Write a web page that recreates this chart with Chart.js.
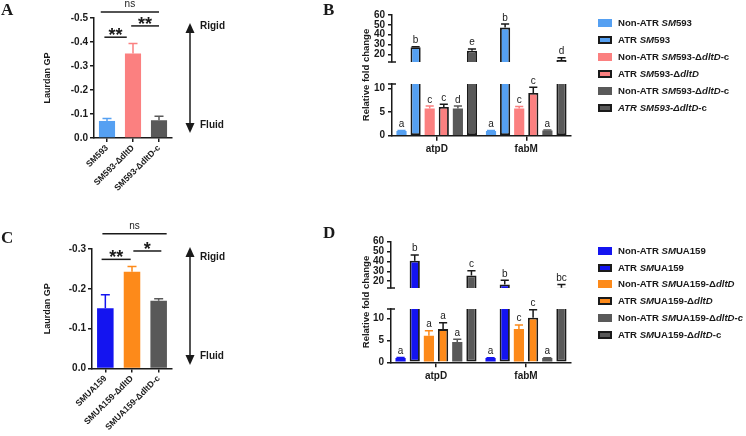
<!DOCTYPE html>
<html>
<head>
<meta charset="utf-8">
<script src="https://cdn.jsdelivr.net/npm/chart.js@4.4.1/dist/chart.umd.min.js"></script>
<style>
  body { margin: 0; background: #fff; }
  #fig { position: relative; width: 746px; height: 436px; overflow: hidden; font-family: Arial, "Liberation Sans", sans-serif; color: #1a1a1a; }
  canvas { position: absolute; }
  .panel { position: absolute; font-family: "Times New Roman", "Liberation Serif", serif; font-weight: bold; font-size: 17px; line-height: 17px; }
  .note { position: absolute; font-weight: bold; font-size: 10px; line-height: 12px; }
  .ytitle { position: absolute; font-weight: bold; font-size: 9.5px; white-space: nowrap; transform: translate(-50%, -50%) rotate(-90deg); }
  .legend { position: absolute; left: 598px; top: 0; font-weight: bold; font-size: 9.6px; }
  .legend .row { position: absolute; left: 0; height: 12px; line-height: 12px; white-space: nowrap; }
  .legend .sw { position: absolute; left: 0; top: 2px; width: 14px; height: 8px; box-sizing: border-box; }
  .legend .txt { position: absolute; left: 20px; top: 0; }
</style>
</head>
<body>
<div id="fig">
  <canvas id="chartA" width="200" height="220" style="left:0;top:0"></canvas>
  <canvas id="chartC" width="200" height="216" style="left:0;top:220px"></canvas>
  <canvas id="chartBup" width="290" height="71" style="left:300px;top:0"></canvas>
  <canvas id="chartBlow" width="290" height="85" style="left:300px;top:75px"></canvas>
  <canvas id="chartDup" width="290" height="77" style="left:300px;top:220px"></canvas>
  <canvas id="chartDlow" width="290" height="85" style="left:300px;top:300px"></canvas>

  <svg width="746" height="436" style="position:absolute;left:0;top:0">
    <g stroke="#1a1a1a" stroke-width="1.5" fill="#1a1a1a">
      <line x1="190" y1="30" x2="190" y2="126"/>
      <polygon points="190,23 185.5,33 194.5,33" stroke="none"/>
      <polygon points="190,133 185.5,123 194.5,123" stroke="none"/>
      <line x1="190" y1="254" x2="190" y2="358"/>
      <polygon points="190,247 185.5,257 194.5,257" stroke="none"/>
      <polygon points="190,365 185.5,355 194.5,355" stroke="none"/>
    </g>
  </svg>

  <div class="panel" style="left:1px;top:1px">A</div>
  <div class="panel" style="left:323px;top:1px">B</div>
  <div class="panel" style="left:1px;top:229px">C</div>
  <div class="panel" style="left:323px;top:224px">D</div>

  <div class="note" style="left:200px;top:20px">Rigid</div>
  <div class="note" style="left:200px;top:119px">Fluid</div>
  <div class="note" style="left:200px;top:251px">Rigid</div>
  <div class="note" style="left:200px;top:350px">Fluid</div>

  <div class="ytitle" style="left:365px;top:75px">Relative fold change</div>
  <div class="ytitle" style="left:365px;top:302px">Relative fold change</div>

  <div class="legend" id="legendB"></div>
  <div class="legend" id="legendD"></div>
</div>

<script>
// ---- panel A / C : Laurdan GP ----
const strainsA = ["SM593", "SM593-ΔdltD", "SM593-ΔdltD-c"];
const gpA = [-0.071, -0.352, -0.074];
const gpErrA = [0.010, 0.042, 0.017];
const gpTicksA = [0, -0.1, -0.2, -0.3, -0.4, -0.5];

const strainsC = ["SMUA159", "SMUA159-ΔdltD", "SMUA159-ΔdltD-c"];
const gpC = [-0.151, -0.243, -0.170];
const gpErrC = [0.034, 0.013, 0.005];
const gpTicksC = [0, -0.1, -0.2, -0.3];

// ---- panel B / D : relative fold change ----
const genes = ["atpD", "fabM"];
const upperTicks = [20, 30, 40, 50, 60];
const lowerTicks = [0, 5, 10];

const bNonAtr593 = [1.0, 1.0];      const bNonAtr593Err = [0.1, 0.1];   const bNonAtr593Sig = ["a", "a"];
const bAtr593 = [27.2, 47.2];       const bAtr593Err = [0.5, 3.6];      const bAtr593Sig = ["b", "b"];
const bNonAtrDltD = [5.8, 5.8];     const bNonAtrDltDErr = [0.5, 0.4];  const bNonAtrDltDSig = ["c", "c"];
const bAtrDltD = [6.1, 9.1];        const bAtrDltDErr = [0.6, 1.2];     const bAtrDltDSig = ["c", "c"];
const bNonAtrDltDc = [5.8, 1.1];    const bNonAtrDltDcErr = [0.5, 0.1]; const bNonAtrDltDcSig = ["d", "a"];
const bAtrDltDc = [23.8, 14.3];     const bAtrDltDcErr = [1.8, 2.3];    const bAtrDltDcSig = ["e", "d"];

const dNonAtrUA = [1.0, 1.0];       const dNonAtrUAErr = [0.1, 0.05];   const dNonAtrUASig = ["a", "a"];
const dAtrUA = [40.6, 16.6];        const dAtrUAErr = [6.0, 4.3];       const dAtrUASig = ["b", "b"];
const dNonAtrDltD = [6.05, 7.6];    const dNonAtrDltDErr = [1.15, 0.95]; const dNonAtrDltDSig = ["a", "c"];
const dAtrDltD = [7.6, 10.2];       const dAtrDltDErr = [1.45, 1.8];    const dAtrDltDSig = ["a", "c"];
const dNonAtrDltDc = [4.67, 1.0];   const dNonAtrDltDcErr = [0.6, 0.05]; const dNonAtrDltDcSig = ["a", "a"];
const dAtrDltDc = [25.7, 13.3];     const dAtrDltDcErr = [4.9, 3.2];    const dAtrDltDcSig = ["c", "bc"];

const INK = "#1a1a1a";
const LIGHT_BLUE = "#55a0f2";
const PINK = "#fb8080";
const GRAY = "#595959";
const BLUE = "#1414f0";
const ORANGE = "#fd8a1a";
const FONT = 'Arial, "Liberation Sans", sans-serif';

Chart.defaults.font.family = FONT;
Chart.defaults.color = INK;
Chart.defaults.animation = false;
Chart.defaults.responsive = false;
Chart.defaults.plugins.legend.display = false;
Chart.defaults.plugins.tooltip.enabled = false;

const seriesB = [
  { name: "Non-ATR <i>SM</i>593", values: bNonAtr593, errs: bNonAtr593Err, sig: bNonAtr593Sig, color: LIGHT_BLUE, atr: false },
  { name: "ATR <i>SM</i>593", values: bAtr593, errs: bAtr593Err, sig: bAtr593Sig, color: LIGHT_BLUE, atr: true },
  { name: "Non-ATR <i>SM</i>593-Δ<i>dltD</i>-c", values: bNonAtrDltD, errs: bNonAtrDltDErr, sig: bNonAtrDltDSig, color: PINK, atr: false },
  { name: "ATR <i>SM</i>593-Δ<i>dltD</i>", values: bAtrDltD, errs: bAtrDltDErr, sig: bAtrDltDSig, color: PINK, atr: true },
  { name: "Non-ATR <i>SM</i>593-Δ<i>dltD</i>-c", values: bNonAtrDltDc, errs: bNonAtrDltDcErr, sig: bNonAtrDltDcSig, color: GRAY, atr: false },
  { name: "<i>ATR SM593-ΔdltD</i>-c", values: bAtrDltDc, errs: bAtrDltDcErr, sig: bAtrDltDcSig, color: GRAY, atr: true },
];

const seriesD = [
  { name: "Non-ATR <i>SM</i>UA159", values: dNonAtrUA, errs: dNonAtrUAErr, sig: dNonAtrUASig, color: BLUE, atr: false },
  { name: "ATR <i>SM</i>UA159", values: dAtrUA, errs: dAtrUAErr, sig: dAtrUASig, color: BLUE, atr: true },
  { name: "Non-ATR <i>SM</i>UA159-Δ<i>dltD</i>", values: dNonAtrDltD, errs: dNonAtrDltDErr, sig: dNonAtrDltDSig, color: ORANGE, atr: false },
  { name: "ATR <i>SM</i>UA159-Δ<i>dltD</i>", values: dAtrDltD, errs: dAtrDltDErr, sig: dAtrDltDSig, color: ORANGE, atr: true },
  { name: "Non-ATR <i>SM</i>UA159-Δ<i>dltD-c</i>", values: dNonAtrDltDc, errs: dNonAtrDltDcErr, sig: dNonAtrDltDcSig, color: GRAY, atr: false },
  { name: "ATR <i>SM</i>UA159-Δ<i>dltD</i>-c", values: dAtrDltDc, errs: dAtrDltDcErr, sig: dAtrDltDcSig, color: GRAY, atr: true },
];

function axisLines(tickLen) {
  return {
    grid: { drawOnChartArea: false, drawTicks: true, tickLength: tickLen, color: INK, lineWidth: 1.5, offset: false },
    border: { display: true, color: INK, width: 1.5 },
  };
}

// error bars above the GP bars
function gpErrorPlugin(values, errs, colors) {
  return {
    id: "gpErr",
    afterDatasetsDraw(chart) {
      const { ctx } = chart;
      const y = chart.scales.y;
      chart.getDatasetMeta(0).data.forEach((bar, i) => {
        const top = y.getPixelForValue(values[i] - errs[i]);
        ctx.save();
        ctx.strokeStyle = colors[i];
        ctx.lineWidth = 1.5;
        ctx.beginPath();
        ctx.moveTo(bar.x, bar.y);
        ctx.lineTo(bar.x, top);
        ctx.moveTo(bar.x - 4.5, top);
        ctx.lineTo(bar.x + 4.5, top);
        ctx.stroke();
        ctx.restore();
      });
    },
  };
}

// significance lines, positions in category units
function bracketPlugin(brackets) {
  return {
    id: "brackets",
    afterDraw(chart) {
      const { ctx } = chart;
      const { x, y } = chart.scales;
      const x0 = x.getPixelForValue(0);
      const step = x.getPixelForValue(1) - x0;
      ctx.save();
      ctx.strokeStyle = INK;
      ctx.fillStyle = INK;
      ctx.lineWidth = 1.5;
      brackets.forEach(b => {
        const xa = x0 + b.from * step, xb = x0 + b.to * step;
        const yy = y.getPixelForValue(b.at);
        ctx.beginPath();
        ctx.moveTo(xa, yy);
        ctx.lineTo(xb, yy);
        ctx.stroke();
        ctx.textAlign = "center";
        ctx.textBaseline = "alphabetic";
        if (b.text === "ns") {
          ctx.font = "10px " + FONT;
          ctx.fillText(b.text, (xa + xb) / 2, yy - 5);
        } else {
          ctx.font = "bold 18px " + FONT;
          ctx.fillText(b.text, (xa + xb) / 2, yy + 4);
        }
      });
      ctx.restore();
    },
  };
}

function gpChart(id, pad, yWidth, xHeight, labels, values, errs, colors, ticks, brackets) {
  const lines = axisLines(4);
  return new Chart(document.getElementById(id), {
    type: "bar",
    data: {
      labels: labels,
      datasets: [{ data: values, backgroundColor: colors, borderWidth: 0, barPercentage: 0.62, categoryPercentage: 1 }],
    },
    options: {
      layout: { padding: pad },
      scales: {
        x: {
          grid: lines.grid, border: lines.border,
          ticks: { autoSkip: false, minRotation: 45, maxRotation: 45, padding: 1, font: { size: 8.6, weight: "bold" } },
          afterFit: s => { s.height = xHeight; },
        },
        y: {
          grid: lines.grid, border: lines.border,
          reverse: true,
          min: Math.min(...ticks),
          max: 0,
          afterBuildTicks: s => { s.ticks = ticks.map(v => ({ value: v })); },
          ticks: { autoSkip: false, padding: 2, font: { size: 10, weight: "bold" }, callback: v => v.toFixed(1) },
          title: { display: true, text: "Laurdan GP", font: { size: 9, weight: "bold" }, padding: { top: 2, bottom: 0 } },
          afterFit: s => { s.width = yWidth; },
        },
      },
    },
    plugins: [gpErrorPlugin(values, errs, colors), bracketPlugin(brackets)],
  });
}

gpChart("chartA", { left: 40, top: 18, right: 28, bottom: 0 }, 54, 82,
  strainsA, gpA, gpErrA, [LIGHT_BLUE, PINK, GRAY], gpTicksA,
  [
    { from: -0.1, to: 0.76, at: -0.42, text: "**" },
    { from: 0.93, to: 2.0, at: -0.467, text: "**" },
    { from: -0.24, to: 2.0, at: -0.525, text: "ns" },
  ]);

gpChart("chartC", { left: 40, top: 29, right: 28, bottom: 0 }, 52, 67.5,
  strainsC, gpC, gpErrC, [BLUE, ORANGE, GRAY], gpTicksC,
  [
    { from: -0.14, to: 0.95, at: -0.274, text: "**" },
    { from: 1.05, to: 2.1, at: -0.295, text: "*" },
    { from: -0.11, to: 2.3, at: -0.338, text: "ns" },
  ]);

// error bars + letters for the broken-axis charts
function foldMarksPlugin(series, upMin, part) {
  return {
    id: "foldMarks",
    afterDatasetsDraw(chart) {
      const { ctx } = chart;
      const y = chart.scales.y;
      ctx.save();
      series.forEach((s, i) => {
        const meta = chart.getDatasetMeta(i);
        s.values.forEach((v, j) => {
          if ((v > upMin) !== (part === "up")) return;
          const bar = meta.data[j];
          const yv = y.getPixelForValue(v);
          const ye = y.getPixelForValue(v + s.errs[j]);
          const half = bar.width * 0.4;
          ctx.strokeStyle = s.atr ? INK : s.color;
          ctx.lineWidth = 1.5;
          ctx.beginPath();
          ctx.moveTo(bar.x, yv);
          ctx.lineTo(bar.x, ye);
          ctx.moveTo(bar.x - half, ye);
          ctx.lineTo(bar.x + half, ye);
          ctx.stroke();
          ctx.fillStyle = INK;
          ctx.font = "10px " + FONT;
          ctx.textAlign = "center";
          ctx.textBaseline = "alphabetic";
          ctx.fillText(s.sig[j], bar.x, ye - 3.5);
        });
      });
      ctx.restore();
    },
  };
}

// little caps at the broken ends of the y axis
function breakCapPlugin(edge) {
  return {
    id: "breakCap",
    afterDraw(chart) {
      const { ctx, chartArea } = chart;
      const yy = edge === "bottom" ? chartArea.bottom : chartArea.top;
      ctx.save();
      ctx.strokeStyle = INK;
      ctx.lineWidth = 1.5;
      ctx.beginPath();
      ctx.moveTo(chartArea.left - 4, yy);
      ctx.lineTo(chartArea.left + 4, yy);
      ctx.stroke();
      ctx.restore();
    },
  };
}

function foldCharts(upId, lowId, series, upMin, lowMax, upPad, lowPad, xHeight) {
  const lines = axisLines(4);
  const barGeom = { barPercentage: 0.72, categoryPercentage: 0.945 };
  const yBase = {
    grid: lines.grid, border: lines.border,
    ticks: { autoSkip: false, padding: 3, font: { size: 10, weight: "bold" } },
    afterFit: s => { s.width = 32; },
  };

  new Chart(document.getElementById(upId), {
    type: "bar",
    data: {
      labels: genes,
      datasets: series.map(s => ({
        data: s.values.map(v => (v > upMin ? v : null)),
        backgroundColor: s.color,
        borderColor: INK,
        borderWidth: s.atr ? 1.8 : 0,
        borderSkipped: "start",
        ...barGeom,
      })),
    },
    options: {
      layout: { padding: upPad },
      scales: {
        x: { display: false },
        y: { ...yBase, min: upMin, max: 60, afterBuildTicks: s => { s.ticks = upperTicks.map(v => ({ value: v })); } },
      },
    },
    plugins: [foldMarksPlugin(series, upMin, "up"), breakCapPlugin("bottom")],
  });

  new Chart(document.getElementById(lowId), {
    type: "bar",
    data: {
      labels: genes,
      datasets: series.map(s => ({
        data: s.values.map(v => Math.min(v, lowMax)),
        backgroundColor: s.color,
        borderColor: INK,
        borderWidth: s.atr ? 1.8 : 0,
        borderSkipped: c => (s.values[c.dataIndex] > lowMax ? "end" : "start"),
        ...barGeom,
      })),
    },
    options: {
      layout: { padding: lowPad },
      scales: {
        x: {
          grid: axisLines(5).grid, border: lines.border,
          ticks: { padding: 3, maxRotation: 0, font: { size: 10, weight: "bold" } },
          afterFit: s => { s.height = xHeight; },
        },
        y: { ...yBase, min: 0, max: lowMax, afterBuildTicks: s => { s.ticks = lowerTicks.map(v => ({ value: v })); } },
      },
    },
    plugins: [foldMarksPlugin(series, upMin, "low"), breakCapPlugin("top")],
  });
}

foldCharts("chartBup", "chartBlow", seriesB, 12.3, 11,
  { left: 60, top: 15, right: 19, bottom: 0 },
  { left: 60, top: 5, right: 19, bottom: 0 }, 24.3);

foldCharts("chartDup", "chartDlow", seriesD, 13, 12.2,
  { left: 59, top: 21.7, right: 19, bottom: 0 },
  { left: 59, top: 6.7, right: 19, bottom: 0 }, 22.7);

function buildLegend(id, series, rowTops) {
  const box = document.getElementById(id);
  series.forEach((s, i) => {
    const row = document.createElement("div");
    row.className = "row";
    row.style.top = rowTops[i] + "px";
    const border = s.atr ? "border:2px solid " + INK + ";" : "";
    row.innerHTML = '<span class="sw" style="background:' + s.color + ";" + border + '"></span><span class="txt">' + s.name + "</span>";
    box.appendChild(row);
  });
}
buildLegend("legendB", seriesB, [17, 34, 51, 68, 85, 102]);
buildLegend("legendD", seriesD, [245, 261.5, 278, 295, 312, 329]);
</script>
</body>
</html>
